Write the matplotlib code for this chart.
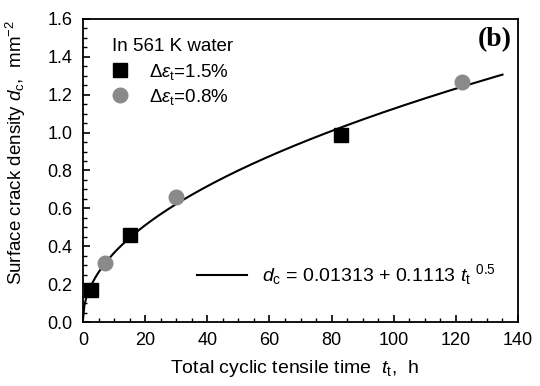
import numpy as np
import matplotlib
matplotlib.use('Agg')
import matplotlib.pyplot as plt
from matplotlib.ticker import MultipleLocator, FormatStrFormatter

plt.rcParams['font.family'] = ['Liberation Sans', 'DejaVu Sans']
plt.rcParams['mathtext.fontset'] = 'custom'
plt.rcParams['mathtext.rm'] = 'Liberation Sans'
plt.rcParams['mathtext.it'] = 'Liberation Sans:italic'

# data
t_15 = [2.5, 15, 83]
d_15 = [0.17, 0.46, 0.985]
t_08 = [7, 30, 122]
d_08 = [0.31, 0.66, 1.265]
# fit: d_c = a + b * t^0.5
fit_a = 0.01313
fit_b = 0.1113
fit_tmax = 135

fig = plt.figure(figsize=(5.4, 3.86), dpi=100)
ax = fig.add_axes([0.1537, 0.1658, 0.8056, 0.785])

t_fit = np.linspace(0, fit_tmax, 300)
line, = ax.plot(t_fit, fit_a + fit_b * np.sqrt(t_fit), color='black', lw=1.5, zorder=2)
sq, = ax.plot(t_15, d_15, 's', color='black', ms=10, zorder=3)
ci, = ax.plot(t_08, d_08, 'o', color='#8a8a8a', ms=10.5, zorder=3)

ax.set_xlim(0, 140)
ax.set_ylim(0, 1.6)
ax.xaxis.set_major_locator(MultipleLocator(20))
ax.xaxis.set_minor_locator(MultipleLocator(5))
ax.yaxis.set_major_locator(MultipleLocator(0.2))
ax.yaxis.set_minor_locator(MultipleLocator(0.05))
ax.yaxis.set_major_formatter(FormatStrFormatter('%.1f'))
ax.tick_params(which='both', direction='in', top=False, right=False, labelsize=13)
ax.tick_params(axis='x', pad=7.5)
ax.tick_params(axis='y', pad=7.5)
ax.tick_params(which='major', length=5, width=1.2)
ax.tick_params(which='minor', length=3, width=1)
for s in ax.spines.values():
    s.set_linewidth(1.3)

ax.set_xlabel(r'Total cyclic tensile time  $t_\mathrm{t}$,  h', fontsize=14)
ax.xaxis.set_label_coords(0.485, -0.118)
ax.set_ylabel(r'Surface crack density $d_\mathrm{c}$,  mm$^{-2}$', fontsize=13.5)
ax.yaxis.set_label_coords(-0.126, 0.56)

# legend block: title text + one legend per row
ax.text(0.0667, 0.9076, 'In 561 K water', transform=ax.transAxes,
        ha='left', va='center', fontsize=13.5)
leg_kw = dict(loc='center left', frameon=False, fontsize=13.5, borderpad=0,
              borderaxespad=0, handlelength=0.8, handletextpad=1.15)
leg1 = ax.legend([sq], [r'$\Delta\varepsilon_\mathrm{t}$=1.5%'],
                 bbox_to_anchor=(0.0678, 0.825), **leg_kw)
ax.add_artist(leg1)
leg2 = ax.legend([ci], [r'$\Delta\varepsilon_\mathrm{t}$=0.8%'],
                 bbox_to_anchor=(0.0678, 0.7426), **leg_kw)
ax.add_artist(leg2)
ax.legend([line], [r'$d_\mathrm{c}$ = 0.01313 + 0.1113 $t_\mathrm{t}$ $^{0.5}$'],
          loc='center left', frameon=False, fontsize=14, borderpad=0, borderaxespad=0,
          handlelength=2.58, handletextpad=0.77, bbox_to_anchor=(0.262, 0.155))

ax.text(0.986, 0.972, '(b)', transform=ax.transAxes, ha='right', va='top',
        fontsize=20, fontweight='bold', family='Liberation Serif')

fig.savefig('out.png', dpi=100)
